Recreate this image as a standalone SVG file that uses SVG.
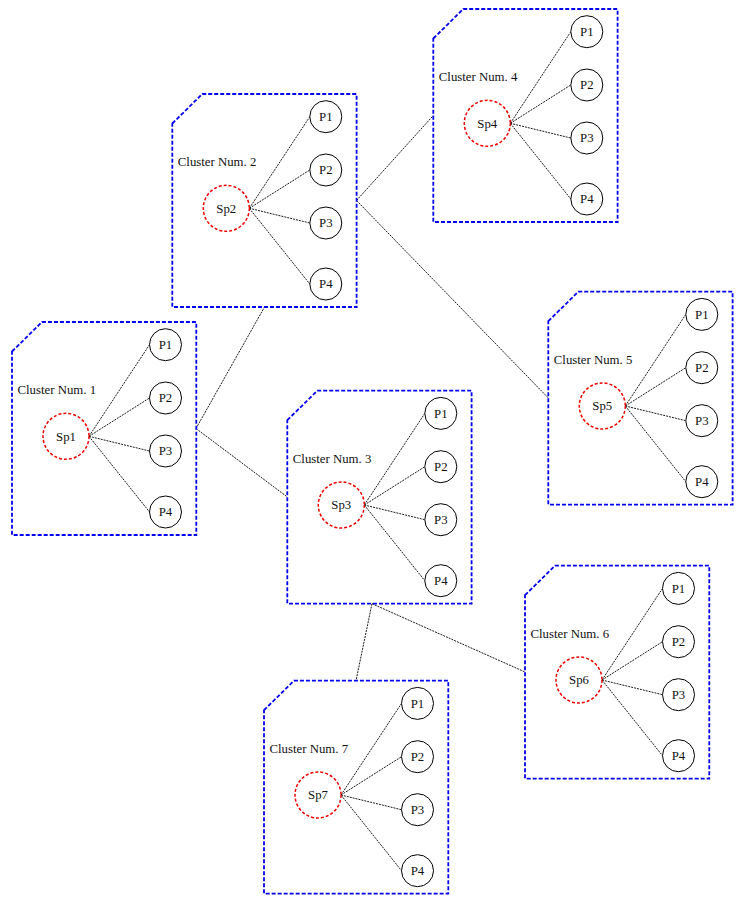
<svg xmlns="http://www.w3.org/2000/svg" width="744" height="904" viewBox="0 0 744 904">
<style>
.box{fill:none;stroke:#0000ee;stroke-width:1.8;stroke-dasharray:4 2}
.sp{fill:#fff;stroke:#ee0000;stroke-width:1.5;stroke-dasharray:3 2}
.p{fill:#fff;stroke:#000;stroke-width:1}
.t{font-family:"Liberation Serif","Times New Roman",serif;font-size:12.8px;fill:#111}
.c{text-anchor:middle}
.ln{stroke:#000;stroke-width:0.9;stroke-dasharray:2 1;fill:none}
</style>
<defs>
<g id="spokes">
<line class="ln" x1="77" y1="114.3" x2="137.5" y2="22.7"/>
<line class="ln" x1="77" y1="114.3" x2="137.5" y2="76"/>
<line class="ln" x1="77" y1="114.3" x2="137.5" y2="129"/>
<line class="ln" x1="77" y1="114.3" x2="137.5" y2="190"/>
</g>
<path id="frame" class="box" d="M0,29.5 L30,0 L184.3,0 L184.3,213 L0,213 Z"/>
<circle id="pc" class="p" r="16"/>
</defs>
<rect width="744" height="904" fill="#fff"/>
<g id="connectors">
<line class="ln" x1="196" y1="428.5" x2="264.5" y2="307"/>
<line class="ln" x1="196" y1="428.5" x2="287.3" y2="497"/>
<line class="ln" x1="356.5" y1="200.5" x2="433.3" y2="115.5"/>
<line class="ln" x1="356.5" y1="200.5" x2="548.3" y2="398"/>
<line class="ln" x1="372" y1="603.7" x2="356" y2="680.7"/>
<line class="ln" x1="372" y1="603.7" x2="525" y2="672"/>
<use href="#spokes" transform="translate(12,322)"/>
<use href="#spokes" transform="translate(172.3,94)"/>
<use href="#spokes" transform="translate(287.3,390.7)"/>
<use href="#spokes" transform="translate(433.3,9)"/>
<use href="#spokes" transform="translate(548.3,291.7)"/>
<use href="#spokes" transform="translate(525,565.7)"/>
<use href="#spokes" transform="translate(264,680.7)"/>
</g>
<g id="cluster1" transform="translate(12,322)">
<use href="#frame"/>
<text class="t" x="5.5" y="72">Cluster Num. 1</text>
<g id="sp1"><circle class="sp" cx="54" cy="114.3" r="23"/><text class="t c" x="54" y="118.7">Sp1</text></g>
<g id="c1p1"><use href="#pc" x="153.5" y="22.7"/><text class="t c" x="153.5" y="27.1">P1</text></g>
<g id="c1p2"><use href="#pc" x="153.5" y="76"/><text class="t c" x="153.5" y="80.4">P2</text></g>
<g id="c1p3"><use href="#pc" x="153.5" y="129"/><text class="t c" x="153.5" y="133.4">P3</text></g>
<g id="c1p4"><use href="#pc" x="153.5" y="190"/><text class="t c" x="153.5" y="194.4">P4</text></g>
</g>
<g id="cluster2" transform="translate(172.3,94)">
<use href="#frame"/>
<text class="t" x="5.5" y="72">Cluster Num. 2</text>
<g id="sp2"><circle class="sp" cx="54" cy="114.3" r="23"/><text class="t c" x="54" y="118.7">Sp2</text></g>
<g id="c2p1"><use href="#pc" x="153.5" y="22.7"/><text class="t c" x="153.5" y="27.1">P1</text></g>
<g id="c2p2"><use href="#pc" x="153.5" y="76"/><text class="t c" x="153.5" y="80.4">P2</text></g>
<g id="c2p3"><use href="#pc" x="153.5" y="129"/><text class="t c" x="153.5" y="133.4">P3</text></g>
<g id="c2p4"><use href="#pc" x="153.5" y="190"/><text class="t c" x="153.5" y="194.4">P4</text></g>
</g>
<g id="cluster3" transform="translate(287.3,390.7)">
<use href="#frame"/>
<text class="t" x="5.5" y="72">Cluster Num. 3</text>
<g id="sp3"><circle class="sp" cx="54" cy="114.3" r="23"/><text class="t c" x="54" y="118.7">Sp3</text></g>
<g id="c3p1"><use href="#pc" x="153.5" y="22.7"/><text class="t c" x="153.5" y="27.1">P1</text></g>
<g id="c3p2"><use href="#pc" x="153.5" y="76"/><text class="t c" x="153.5" y="80.4">P2</text></g>
<g id="c3p3"><use href="#pc" x="153.5" y="129"/><text class="t c" x="153.5" y="133.4">P3</text></g>
<g id="c3p4"><use href="#pc" x="153.5" y="190"/><text class="t c" x="153.5" y="194.4">P4</text></g>
</g>
<g id="cluster4" transform="translate(433.3,9)">
<use href="#frame"/>
<text class="t" x="5.5" y="72">Cluster Num. 4</text>
<g id="sp4"><circle class="sp" cx="54" cy="114.3" r="23"/><text class="t c" x="54" y="118.7">Sp4</text></g>
<g id="c4p1"><use href="#pc" x="153.5" y="22.7"/><text class="t c" x="153.5" y="27.1">P1</text></g>
<g id="c4p2"><use href="#pc" x="153.5" y="76"/><text class="t c" x="153.5" y="80.4">P2</text></g>
<g id="c4p3"><use href="#pc" x="153.5" y="129"/><text class="t c" x="153.5" y="133.4">P3</text></g>
<g id="c4p4"><use href="#pc" x="153.5" y="190"/><text class="t c" x="153.5" y="194.4">P4</text></g>
</g>
<g id="cluster5" transform="translate(548.3,291.7)">
<use href="#frame"/>
<text class="t" x="5.5" y="72">Cluster Num. 5</text>
<g id="sp5"><circle class="sp" cx="54" cy="114.3" r="23"/><text class="t c" x="54" y="118.7">Sp5</text></g>
<g id="c5p1"><use href="#pc" x="153.5" y="22.7"/><text class="t c" x="153.5" y="27.1">P1</text></g>
<g id="c5p2"><use href="#pc" x="153.5" y="76"/><text class="t c" x="153.5" y="80.4">P2</text></g>
<g id="c5p3"><use href="#pc" x="153.5" y="129"/><text class="t c" x="153.5" y="133.4">P3</text></g>
<g id="c5p4"><use href="#pc" x="153.5" y="190"/><text class="t c" x="153.5" y="194.4">P4</text></g>
</g>
<g id="cluster6" transform="translate(525,565.7)">
<use href="#frame"/>
<text class="t" x="5.5" y="72">Cluster Num. 6</text>
<g id="sp6"><circle class="sp" cx="54" cy="114.3" r="23"/><text class="t c" x="54" y="118.7">Sp6</text></g>
<g id="c6p1"><use href="#pc" x="153.5" y="22.7"/><text class="t c" x="153.5" y="27.1">P1</text></g>
<g id="c6p2"><use href="#pc" x="153.5" y="76"/><text class="t c" x="153.5" y="80.4">P2</text></g>
<g id="c6p3"><use href="#pc" x="153.5" y="129"/><text class="t c" x="153.5" y="133.4">P3</text></g>
<g id="c6p4"><use href="#pc" x="153.5" y="190"/><text class="t c" x="153.5" y="194.4">P4</text></g>
</g>
<g id="cluster7" transform="translate(264,680.7)">
<use href="#frame"/>
<text class="t" x="5.5" y="72">Cluster Num. 7</text>
<g id="sp7"><circle class="sp" cx="54" cy="114.3" r="23"/><text class="t c" x="54" y="118.7">Sp7</text></g>
<g id="c7p1"><use href="#pc" x="153.5" y="22.7"/><text class="t c" x="153.5" y="27.1">P1</text></g>
<g id="c7p2"><use href="#pc" x="153.5" y="76"/><text class="t c" x="153.5" y="80.4">P2</text></g>
<g id="c7p3"><use href="#pc" x="153.5" y="129"/><text class="t c" x="153.5" y="133.4">P3</text></g>
<g id="c7p4"><use href="#pc" x="153.5" y="190"/><text class="t c" x="153.5" y="194.4">P4</text></g>
</g>
</svg>
